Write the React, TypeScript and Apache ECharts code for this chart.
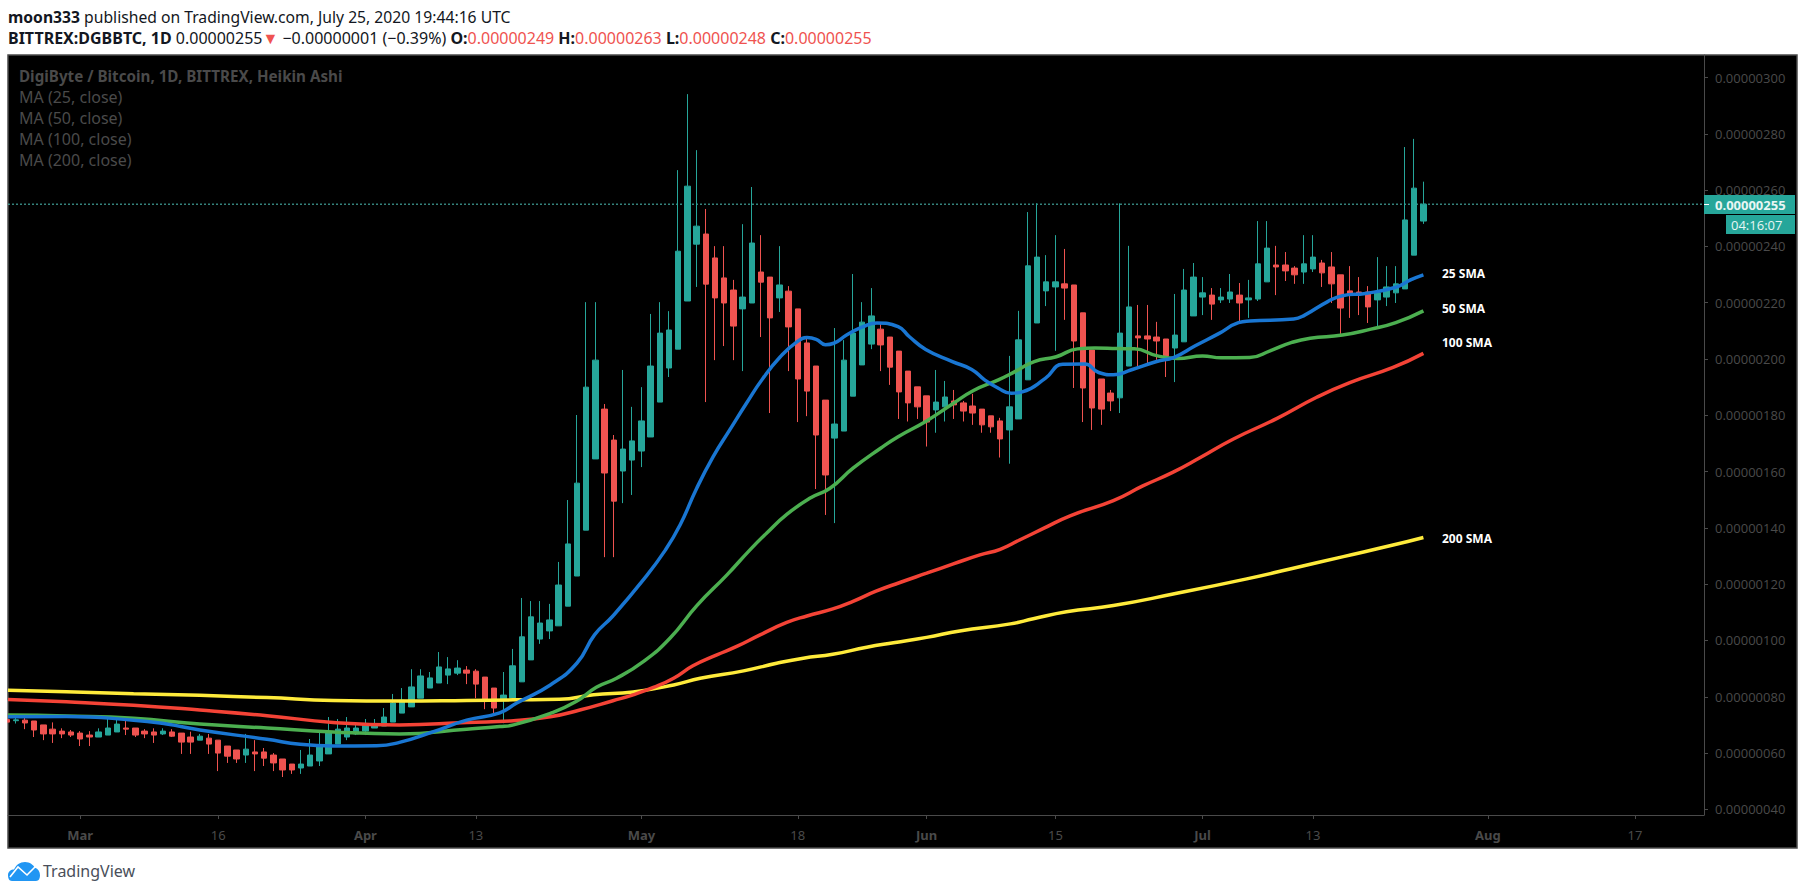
import React, { useEffect, useRef } from "react";
import * as echarts from "echarts";

// Day numbers are counted from 1 March 2020. The first candle is day -8.
const firstDay = -8;
const xMin = -7.85;
const xMax = 176.5;

// Prices in 1e-8 BTC. Rows: open, close, low, high.
const ohlc: number[][] = [
  [71.9,71,71,71.9],[71.5,71.8,70.5,72.6],[71.7,70.7,68.5,72.6],[71.4,68.2,65.7,71.4],
  [70,66.8,64.6,70],[68.5,66.8,63.6,70.9],[67.8,66.8,65.3,68.8],[67.5,66.4,65.7,68.2],
  [67.1,65,62.5,67.8],[66.4,65.7,62.5,67.8],[65.7,67.5,65.7,68.8],[66.4,68.9,66.4,72.1],
  [67.5,70.3,67.5,72.3],[68.9,68.5,66.4,72.1],[68.9,66.4,65.7,68.9],[67.8,66.8,65.3,68.5],
  [67.5,66.4,63.6,68.8],[66.8,67.8,66.4,68.8],[67.5,66,65.7,68.5],[67.1,63.9,59.7,67.1],
  [65.7,63.9,59.7,67.6],[64.6,66,64.6,66.8],[65.3,63.2,59.7,66.8],[64.6,60,53.6,64.6],
  [62.5,58.9,56.5,62.5],[61.1,57.9,56.5,61.1],[59.3,61.4,56.5,66.8],[60.4,59.7,53.6,64.6],
  [60.4,58.2,55.4,61.8],[59.3,56.5,53.6,60],[57.9,54,51.5,57.9],[56.1,54,52.6,56.1],
  [54.7,56.1,52.6,61.1],[55.4,59.3,55.4,65],[57.2,62.5,55.4,67.8],[59.7,67.1,59.7,72.8],
  [63.2,68.5,63.2,72.1],[65.7,68.9,64.6,72.8],[66.8,68.9,66.4,71],[67.8,70.3,66.4,72.1],
  [68.9,70.3,68.9,72.1],[69.6,72.8,69.6,76],[71,77.8,71,81],[74.2,78.8,74.2,83.1],
  [76.4,83.5,76.4,89.8],[79.5,87.4,79.5,89.8],[83.1,86.7,83.1,88.8],[84.9,90.6,84.9,95.9],
  [87.7,89.9,84.5,94.1],[88.4,90.2,87.7,93],[89.5,88.4,84.5,90.9],[89.1,84.5,79.5,89.8],
  [87,78.8,75.6,87],[83.1,76,73.5,83.1],[79.2,80.6,70.6,88.8],[79.6,91,79.6,97],
  [85.3,101.3,85.3,115.1],[93.1,108.4,93.1,114],[100.5,106.2,98.8,114],[103.4,107.3,100.5,113],
  [105.2,119.7,105.2,127.9],[112.2,134.3,112.2,149.9],[122.9,155.9,122.9,180.1],[139.2,190,139.2,220.2],
  [164.5,199.6,164.5,220.2],[182.2,159.5,129.6,184],[171.2,149.5,129.6,173],[160.2,168,148.8,196.1],
  [164.1,170.9,151.7,183],[167.3,178,161.6,190],[172.3,197.5,172.3,216],[184.7,209.2,184.7,220.2],
  [196.8,210.3,193.6,217],[203.5,238.3,203.5,267.1],[220.6,261.4,220.6,294.1],[240.8,247.2,225.6,274.2],
  [244.4,226.6,184.7,253.3],[235.9,221.7,199.6,240.1],[228.8,219.9,204.6,240.1],[224.5,211.7,199.6,228.1],
  [217.8,222,195.7,247.9],[219.9,241.2,219.9,261.1],[230.9,227.3,207.8,244],[229.1,214.6,180.8,229.1],
  [221.7,226.3,216.7,240.1],[224.1,211.4,195.7,225.9],[217.8,192.9,177.6,217.8],[205.7,188.6,179.7,207.1],
  [197.5,173,153.8,197.5],[185.4,158.8,144.6,185.4],[171.9,176.9,141.7,211],[174.4,199.6,174.4,206.7],
  [186.8,209.2,186.8,230.2],[197.9,213.1,197.9,220.2],[205.3,215.3,203.5,225.2],[210.6,205,195.7,213.1],
  [207.8,197.1,190.8,207.8],[202.8,188.3,178.7,202.8],[195.7,184.4,177.8,195.7],[190.1,183,178.7,190.1],
  [186.9,177.6,168.9,186.9],[181.9,184.7,173.8,196.1],[183,186.5,177.8,192.2],[185.1,183.7,178.7,189],
  [184.4,181.5,177.8,185.1],[183.3,180.8,176.6,187.6],[182.2,176.6,173.8,182.2],[179.8,175.9,173.8,179.8],
  [178,171.6,165,179.1],[174.8,183,162.8,201.1],[178.7,206.8,178.7,217.1],[192.6,233.1,192.6,252.2],
  [212.8,236.2,212.8,255.3],[224.2,227.4,218.8,236.9],[225.6,227.4,202.9,244],[226.7,225.2,213.9,239.1],
  [226.3,206.4,189.7,226.3],[216.4,189.7,177.6,216.4],[203.2,182.6,174.8,203.2],[192.9,182.2,176.6,192.9],
  [187.9,185.1,181.5,189],[186.2,209.2,180.8,255.3],[197.5,218.5,197.5,240.2],[208.2,207.5,196.8,219.2],
  [208.2,207.1,197.9,219.2],[207.8,206.4,199.7,213.2],[207.1,201.1,193.6,207.1],[203.9,208.5,191.8,223.1],
  [206.1,224.5,206.1,232],[215.3,229.1,215.3,234.1],[222,223.5,215.6,229.1],[222.7,219.5,213.9,225.2],
  [221,222,219.9,225.2],[221.3,223.8,219.9,230.2],[222.7,219.9,212.7,227],[221,221.7,214.6,228.1],
  [221.3,233.8,220.6,249],[227.4,239.4,227.4,249],[233.4,232.7,222.7,240.2],[233.4,231.3,227.7,238],
  [232.3,229.9,226.7,233],[230.9,233.8,226.7,244],[232,236.2,230.9,244],[234.1,230.6,225.6,235.2],
  [232.7,226.7,219.9,238],[229.9,218.1,208.9,229.9],[224.2,223.1,214.6,233],[223.8,223.1,215.6,229.1],
  [223.8,218.5,212.8,225.9],[221,223.5,211.7,236.2],[222,225.6,218.8,233],[223.5,226.7,219.9,233],
  [224.9,249.4,224.9,275.3],[236.9,260.7,236.9,278.2],[249,255,248,263],
];

// Moving averages, read as [day, price] points.
const sma25: number[][] = [
  [-7.85,72.9],[-1.5,73],[5.8,71.7],[9.4,70.3],[13,68.2],[20.3,64.9],[23.9,63.1],[27.5,62.5],[32.2,62.6],
  [34.7,63.8],[38.4,67.6],[42,71.7],[45.6,74.3],[47.4,77.7],[51.1,84.2],[54,92],[55.9,102],[57.9,108.7],
  [61.2,121.5],[63.6,132.1],[65.2,141],[67,154],[68.8,165.3],[70.6,174.8],[72.4,184.2],[74.2,193.1],[76.1,200.8],
  [77.9,206.1],[79,207.6],[80,207],[81,205.1],[81.9,205.6],[83.3,208.5],[85.1,211.5],[86.6,212.8],[88.9,211.5],
  [90.1,208],[91.9,203.4],[94.8,199.1],[96.9,196.3],[98.3,192.6],[99.8,189.6],[101.2,187.8],[102.4,188.3],
  [104.9,193.1],[106.8,198.1],[109.2,198.2],[110.7,195.2],[112.3,194.4],[114.2,196.1],[117,199.1],[118.9,200.6],
  [121.2,204.7],[123.8,209.1],[125.9,212.9],[127.1,213.5],[131.9,214.2],[133.1,215.6],[135.6,220.4],[137.2,222.5],
  [139.7,223.3],[143,225.5],[144.6,228.1],[146,229.9],
];
const sma50: number[][] = [
  [-7.85,73.5],[-1.5,73.2],[5.8,72.4],[13,70.3],[20.3,68.9],[27.5,67.5],[34.7,66.8],[42,68.5],[45.6,69.4],[47.1,70],
  [51.1,74.1],[53.9,78.3],[56.1,83.4],[58.3,86.6],[61.2,92.5],[64.1,100.8],[67,112.3],[70.3,123.3],[72.8,132.2],
  [74.6,138.1],[76.8,144.8],[79.3,150.5],[81.5,154.1],[84,161.2],[87,168.3],[88.9,172.4],[91.9,177.8],[94.8,184],
  [97.1,188.8],[99.8,192.6],[101.6,195.5],[103.7,199.1],[106.1,200.8],[108.4,203.6],[110.3,203.9],[112.7,203.7],
  [114.6,203.6],[117,201.2],[119.3,200.2],[122,201.1],[124,200.4],[127.1,200.5],[129.4,203],[131.7,205.9],
  [133.7,207.4],[137.2,208.5],[140.3,210.6],[143,212.9],[146,217.1],
];
const sma100: number[][] = [
  [-7.85,79],[-1.5,78.2],[5.8,77],[13,75.3],[20.3,73.3],[27.5,70.9],[34.7,70],[42,70.9],[47.1,71.5],[51.1,72.9],
  [54.3,75.3],[57.9,78.6],[60.1,80.7],[62.3,83.3],[64.5,86.6],[66.6,91],[69.2,94.9],[71.3,97.8],
  [73.9,102],[76.8,106.4],[79,108.7],[81.8,111.2],[84,113.9],[86.5,117.5],[89.1,120.6],[92,123.9],[94.9,127.2],
  [97.8,130.4],[100,132.4],[102.1,135.7],[104.7,139.8],[107.6,144.3],[112.3,149.7],[115.5,154.9],[118.8,159.8],
  [121.7,164.9],[125.3,171.5],[130.1,178.9],[134.4,186.4],[138,191.6],[142.7,197],[146,202],
];
const sma200: number[][] = [
  [-7.85,82.3],[-1.5,81.8],[5.8,81.1],[13,80.5],[20.3,79.7],[27.5,78.7],[34.7,78.5],[42,78.7],[47,78.9],[52.1,79.1],
  [55.8,80.7],[60.1,81.7],[64.5,84.2],[67.4,86.6],[72.1,89.2],[75.7,91.9],[78.6,93.7],[81.8,95.1],[85.5,97.6],
  [88.4,99.2],[92,101.1],[95.6,103.4],[101.1,105.9],[103.6,107.7],[107.2,110.2],[112.3,112.4],[118.8,116.5],
  [126.8,121.9],[131.5,125.4],[137.3,129.8],[142.7,133.9],[146,136.6],
];

const lastPrice = 255;
const yTicks = [40, 60, 80, 100, 120, 140, 160, 180, 200, 220, 240, 260, 280, 300];
const xTickDays = [0, 15, 31, 43, 61, 78, 92, 106, 122, 134, 153, 169];
const xTickLabels = ["Mar", "16", "Apr", "13", "May", "18", "Jun", "15", "Jul", "13", "Aug", "17"];

const upColor = "#26a69a";
const downColor = "#ef5350";
const greyText = "#4a4a4a";
const fontFamily = "'Noto Sans', 'Open Sans', sans-serif";

const cloud =
  "M4 20 C1 20 0 17 0 14 C0 10 3 8 6 8 C8 3 12 0 17 0 C22 0 25 3 27 6 C30 7 32 10 32 14 C32 17 31 20 28 20 Z";

export default function App() {
  const ref = useRef<HTMLDivElement>(null);
  useEffect(() => {
    if (!ref.current) return;
    echarts.graphic.registerShape("tvLogo", echarts.graphic.extendPath(cloud, {}) as any);
    const chart = echarts.init(ref.current, undefined, { renderer: "svg" });

    const txt = (text: string, x: number, y: number, fill: string, size: number, weight: any = "normal", extra: any = {}) => ({
      type: "text",
      x,
      y,
      z: 20,
      style: { text, fill, fontSize: size, fontWeight: weight, fontFamily, textVerticalAlign: "middle", ...extra },
    });

    const option: any = {
      animation: false,
      backgroundColor: "#ffffff",
      grid: { left: 8, top: 55, right: 101, bottom: 80, containLabel: false },
      xAxis: {
        type: "value",
        min: xMin,
        max: xMax,
        splitLine: { show: false },
        axisLine: { show: true, onZero: false, lineStyle: { color: "#4a4a4a", width: 1 } },
        axisTick: { show: true, length: 4, customValues: xTickDays, lineStyle: { color: "#4a4a4a" } },
        axisLabel: {
          customValues: xTickDays,
          margin: 13,
          fontFamily,
          fontSize: 13,
          color: greyText,
          formatter: (v: number) => {
            const label = xTickLabels[xTickDays.indexOf(v)] ?? "";
            return /^\d+$/.test(label) ? label : `{m|${label}}`;
          },
          rich: { m: { fontFamily, fontSize: 13, fontWeight: "bold", color: greyText } },
        },
      },
      yAxis: {
        type: "value",
        position: "right",
        min: 38,
        max: 308,
        scale: true,
        splitLine: { show: false },
        axisLine: { show: true, onZero: false, lineStyle: { color: "#4a4a4a", width: 1 } },
        axisTick: { show: true, length: 4, customValues: yTicks, lineStyle: { color: "#4a4a4a" } },
        axisLabel: {
          customValues: yTicks,
          margin: 11,
          fontFamily: "'Open Sans', sans-serif",
          fontSize: 13,
          color: greyText,
          formatter: (v: number) => (v * 1e-8).toFixed(8),
        },
      },
      series: [
        {
          type: "line",
          data: [[xMin, lastPrice], [xMax, lastPrice]],
          symbol: "none",
          z: 1,
          lineStyle: { color: "#4fc3b8", width: 1, type: [2, 2] },
        },
        {
          type: "candlestick",
          data: ohlc.map((r, i) => [firstDay + i, r[0], r[1], r[2], r[3]]),
          encode: { x: 0, y: [1, 2, 3, 4] },
          barWidth: 6,
          clip: true,
          z: 2,
          itemStyle: { color: upColor, color0: downColor, borderColor: upColor, borderColor0: downColor, borderWidth: 1 },
        },
        ...[
          { data: sma200, color: "#ffeb3b", z: 3 },
          { data: sma100, color: "#f44336", z: 4 },
          { data: sma50, color: "#4caf50", z: 5 },
          { data: sma25, color: "#1976d2", z: 6 },
        ].map((s) => ({
          type: "line",
          data: s.data,
          symbol: "none",
          smooth: 0.5,
          z: s.z,
          lineStyle: { color: s.color, width: 3.5 },
        })),
      ],
      graphic: [
        { type: "rect", z: -5, shape: { x: 8, y: 55, width: 1789, height: 793 }, style: { fill: "#000000", stroke: "#4a4a4a", lineWidth: 1.5 } },
        { type: "rect", z: 18, shape: { x: 0, y: 700, width: 7.2, height: 60 }, style: { fill: "#ffffff" } },
        {
          type: "text", x: 8, y: 17, z: 20,
          style: {
            text: "{b|moon333} published on TradingView.com, July 25, 2020 19:44:16 UTC",
            fontFamily, fontSize: 15.7, fill: "#131722", textVerticalAlign: "middle",
            rich: { b: { fontFamily, fontSize: 15.7, fontWeight: "bold", fill: "#131722" } },
          },
        },
        {
          type: "text", x: 8, y: 38, z: 20,
          style: {
            text: "{b|BITTREX:DGBBTC, 1D} 0.00000255{r|▼} −0.00000001 (−0.39%) {b|O:}{r|0.00000249} {b|H:}{r|0.00000263} {b|L:}{r|0.00000248} {b|C:}{r|0.00000255}",
            fontFamily, fontSize: 16, fill: "#131722", textVerticalAlign: "middle",
            rich: {
              b: { fontFamily, fontSize: 16, fontWeight: "bold", fill: "#131722" },
              r: { fontFamily, fontSize: 16, fill: downColor },
            },
          },
        },
        txt("DigiByte / Bitcoin, 1D, BITTREX, Heikin Ashi", 19, 76, greyText, 15.2, "bold"),
        txt("MA (25, close)", 19, 97, greyText, 16),
        txt("MA (50, close)", 19, 118, greyText, 16),
        txt("MA (100, close)", 19, 139, greyText, 16),
        txt("MA (200, close)", 19, 160, greyText, 16),
        txt("25 SMA", 1442, 273, "#ffffff", 12, "bold"),
        txt("50 SMA", 1442, 308, "#ffffff", 12, "bold"),
        txt("100 SMA", 1442, 342, "#ffffff", 12, "bold"),
        txt("200 SMA", 1442, 538, "#ffffff", 12, "bold"),
        { type: "rect", z: 15, shape: { x: 1704, y: 195, width: 91, height: 19 }, style: { fill: upColor } },
        { type: "rect", z: 16, shape: { x: 1704, y: 204, width: 5, height: 1 }, style: { fill: "#ffffff" } },
        txt("0.00000255", 1715, 204.5, "#e8f6f4", 13, "bold", { fontFamily: "'Open Sans', sans-serif" }),
        { type: "rect", z: 15, shape: { x: 1726, y: 215, width: 69, height: 19 }, style: { fill: upColor } },
        txt("04:16:07", 1731, 224.5, "#e8f6f4", 13, "normal", { fontFamily: "'Open Sans', sans-serif" }),
        { type: "tvLogo", x: 8, y: 862, scaleX: 1, scaleY: 0.95, style: { fill: "#2196f3" } },
        { type: "polyline", z: 21, shape: { points: [[10, 877], [18, 867], [27, 875], [36, 866]] }, style: { stroke: "#ffffff", fill: "none", lineWidth: 1.6 } },
        txt("TradingView", 43, 871, "#4a4f5a", 16),
      ],
    };
    chart.setOption(option);
    return () => chart.dispose();
  }, []);
  return <div ref={ref} style={{ position: "absolute", left: 0, top: 0, width: 1805, height: 895 }} />;
}
